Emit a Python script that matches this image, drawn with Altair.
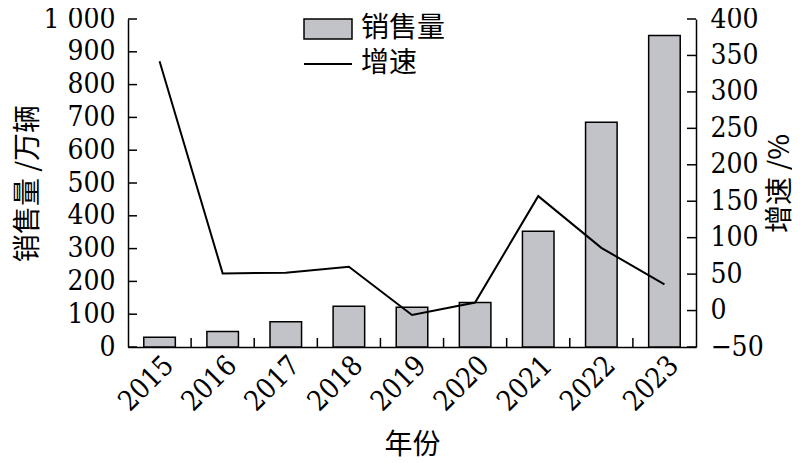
import altair as alt
import pandas as pd

years = ['2015', '2016', '2017', '2018', '2019', '2020', '2021', '2022', '2023']
sales = [30, 47, 77, 124, 121, 136, 353, 685, 950]
growth = [342, 51, 52, 60, -6, 11, 157, 86, 36]
left_ticks = [0, 100, 200, 300, 400, 500, 600, 700, 800, 900, 1000]
right_ticks = [-50, 0, 50, 100, 150, 200, 250, 300, 350, 400]
series_names = ['销售量', '增速']

FONT = "DejaVu Serif Condensed"
CJK = "Noto Sans CJK SC"
W, H = 568, 328

df = pd.DataFrame({'year': years, 'sales': sales, 'growth': growth})
df_lt = pd.DataFrame({'sales': left_ticks})
df_rt = pd.DataFrame({'growth': right_ticks})

xscale = alt.Scale(paddingInner=0, paddingOuter=0)
xaxis = alt.Axis(labelAngle=-45, labelAlign='right', labelBaseline='top', labelPadding=4,
                 labelFont=FONT, labelFontSize=28, labelColor='black',
                 ticks=False, domainColor='black', domainWidth=1.5,
                 title='年份', titleFont=CJK, titleFontSize=28, titleFontWeight='normal',
                 titleColor='black', titleY=98, titleBaseline='middle')

yl_scale = alt.Scale(domain=[0, 1000], nice=False)
yl_axis = alt.Axis(values=left_ticks, labelExpr="datum.value == 1000 ? '1 000' : datum.label",
                   labelFont=FONT, labelFontSize=28, labelColor='black', labelPadding=13,
                   tickSize=0, domainColor='black', domainWidth=1.5, grid=False,
                   title='销售量 /万辆', titleFont=CJK, titleFontSize=28, titleFontWeight='normal',
                   titleColor='black', titleAngle=270, titleX=-100, titleY=H / 2,
                   titleBaseline='middle', titleAlign='center')

yr_scale = alt.Scale(domain=[-50, 400], nice=False)
yr_axis = alt.Axis(orient='right', values=right_ticks,
                   labelFont=FONT, labelFontSize=28, labelColor='black', labelPadding=14,
                   tickSize=0, domainColor='black', domainWidth=1.5, grid=False,
                   title='增速 /%', titleFont=CJK, titleFontSize=28, titleFontWeight='normal',
                   titleColor='black', titleAngle=270, titleX=84, titleY=H / 2,
                   titleBaseline='middle', titleAlign='center')

bars = alt.Chart(df).transform_calculate(s=f"'{series_names[0]}'").mark_bar(
    stroke='black', strokeWidth=1.5, width=alt.RelativeBandSize(0.5)).encode(
    x=alt.X('year:N', scale=xscale, axis=xaxis),
    y=alt.Y('sales:Q', scale=yl_scale, axis=yl_axis),
    fill=alt.Fill('s:N', scale=alt.Scale(domain=[series_names[0]], range=['#c2c3c8']),
                  legend=alt.Legend(orient='none', legendX=175, legendY=-15, title=None,
                                    symbolType='M-1,-0.42H1V0.42H-1Z', symbolSize=2304,
                                    symbolStrokeColor='black', symbolStrokeWidth=1.5,
                                    labelFont=CJK, labelFontSize=28, labelColor='black',
                                    labelOffset=8, padding=0))
)

left_rules = alt.Chart(df_lt).mark_rule(color='black', strokeWidth=1.5).encode(
    y=alt.Y('sales:Q', scale=yl_scale, axis=yl_axis),
    x=alt.value(0), x2=alt.value(9)
)

bottom_rules = alt.Chart(df).transform_filter("datum.year != '2015'").mark_rule(
    color='black', strokeWidth=1.5).encode(
    x=alt.X('year:N', bandPosition=0, scale=xscale, axis=xaxis),
    y=alt.value(H - 9), y2=alt.value(H)
)

line = alt.Chart(df).transform_calculate(g=f"'{series_names[1]}'").mark_line(strokeWidth=2).encode(
    x=alt.X('year:N', scale=xscale, axis=xaxis),
    y=alt.Y('growth:Q', scale=yr_scale, axis=yr_axis),
    stroke=alt.Stroke('g:N', scale=alt.Scale(domain=[series_names[1]], range=['black']),
                      legend=alt.Legend(orient='none', legendX=175, legendY=20, title=None,
                                        symbolType='M-1,0H1', symbolSize=2304,
                                        symbolStrokeWidth=2,
                                        labelFont=CJK, labelFontSize=28, labelColor='black',
                                        labelOffset=8, padding=0))
)

right_rules = alt.Chart(df_rt).mark_rule(color='black', strokeWidth=1.5).encode(
    y=alt.Y('growth:Q', scale=yr_scale, axis=yr_axis),
    x=alt.value(W - 9), x2=alt.value(W)
)

left_group = alt.layer(bars, left_rules, bottom_rules)
right_group = alt.layer(line, right_rules)

chart = alt.layer(left_group, right_group).resolve_scale(
    y='independent'
).properties(
    width=W, height=H,
    autosize=alt.AutoSizeParams(type='none'),
    padding={'left': 120, 'top': 11, 'right': 96, 'bottom': 125},
    background='white'
).configure_view(stroke=None)

chart.save("out.html", embed_options={"renderer": "svg", "actions": False})
